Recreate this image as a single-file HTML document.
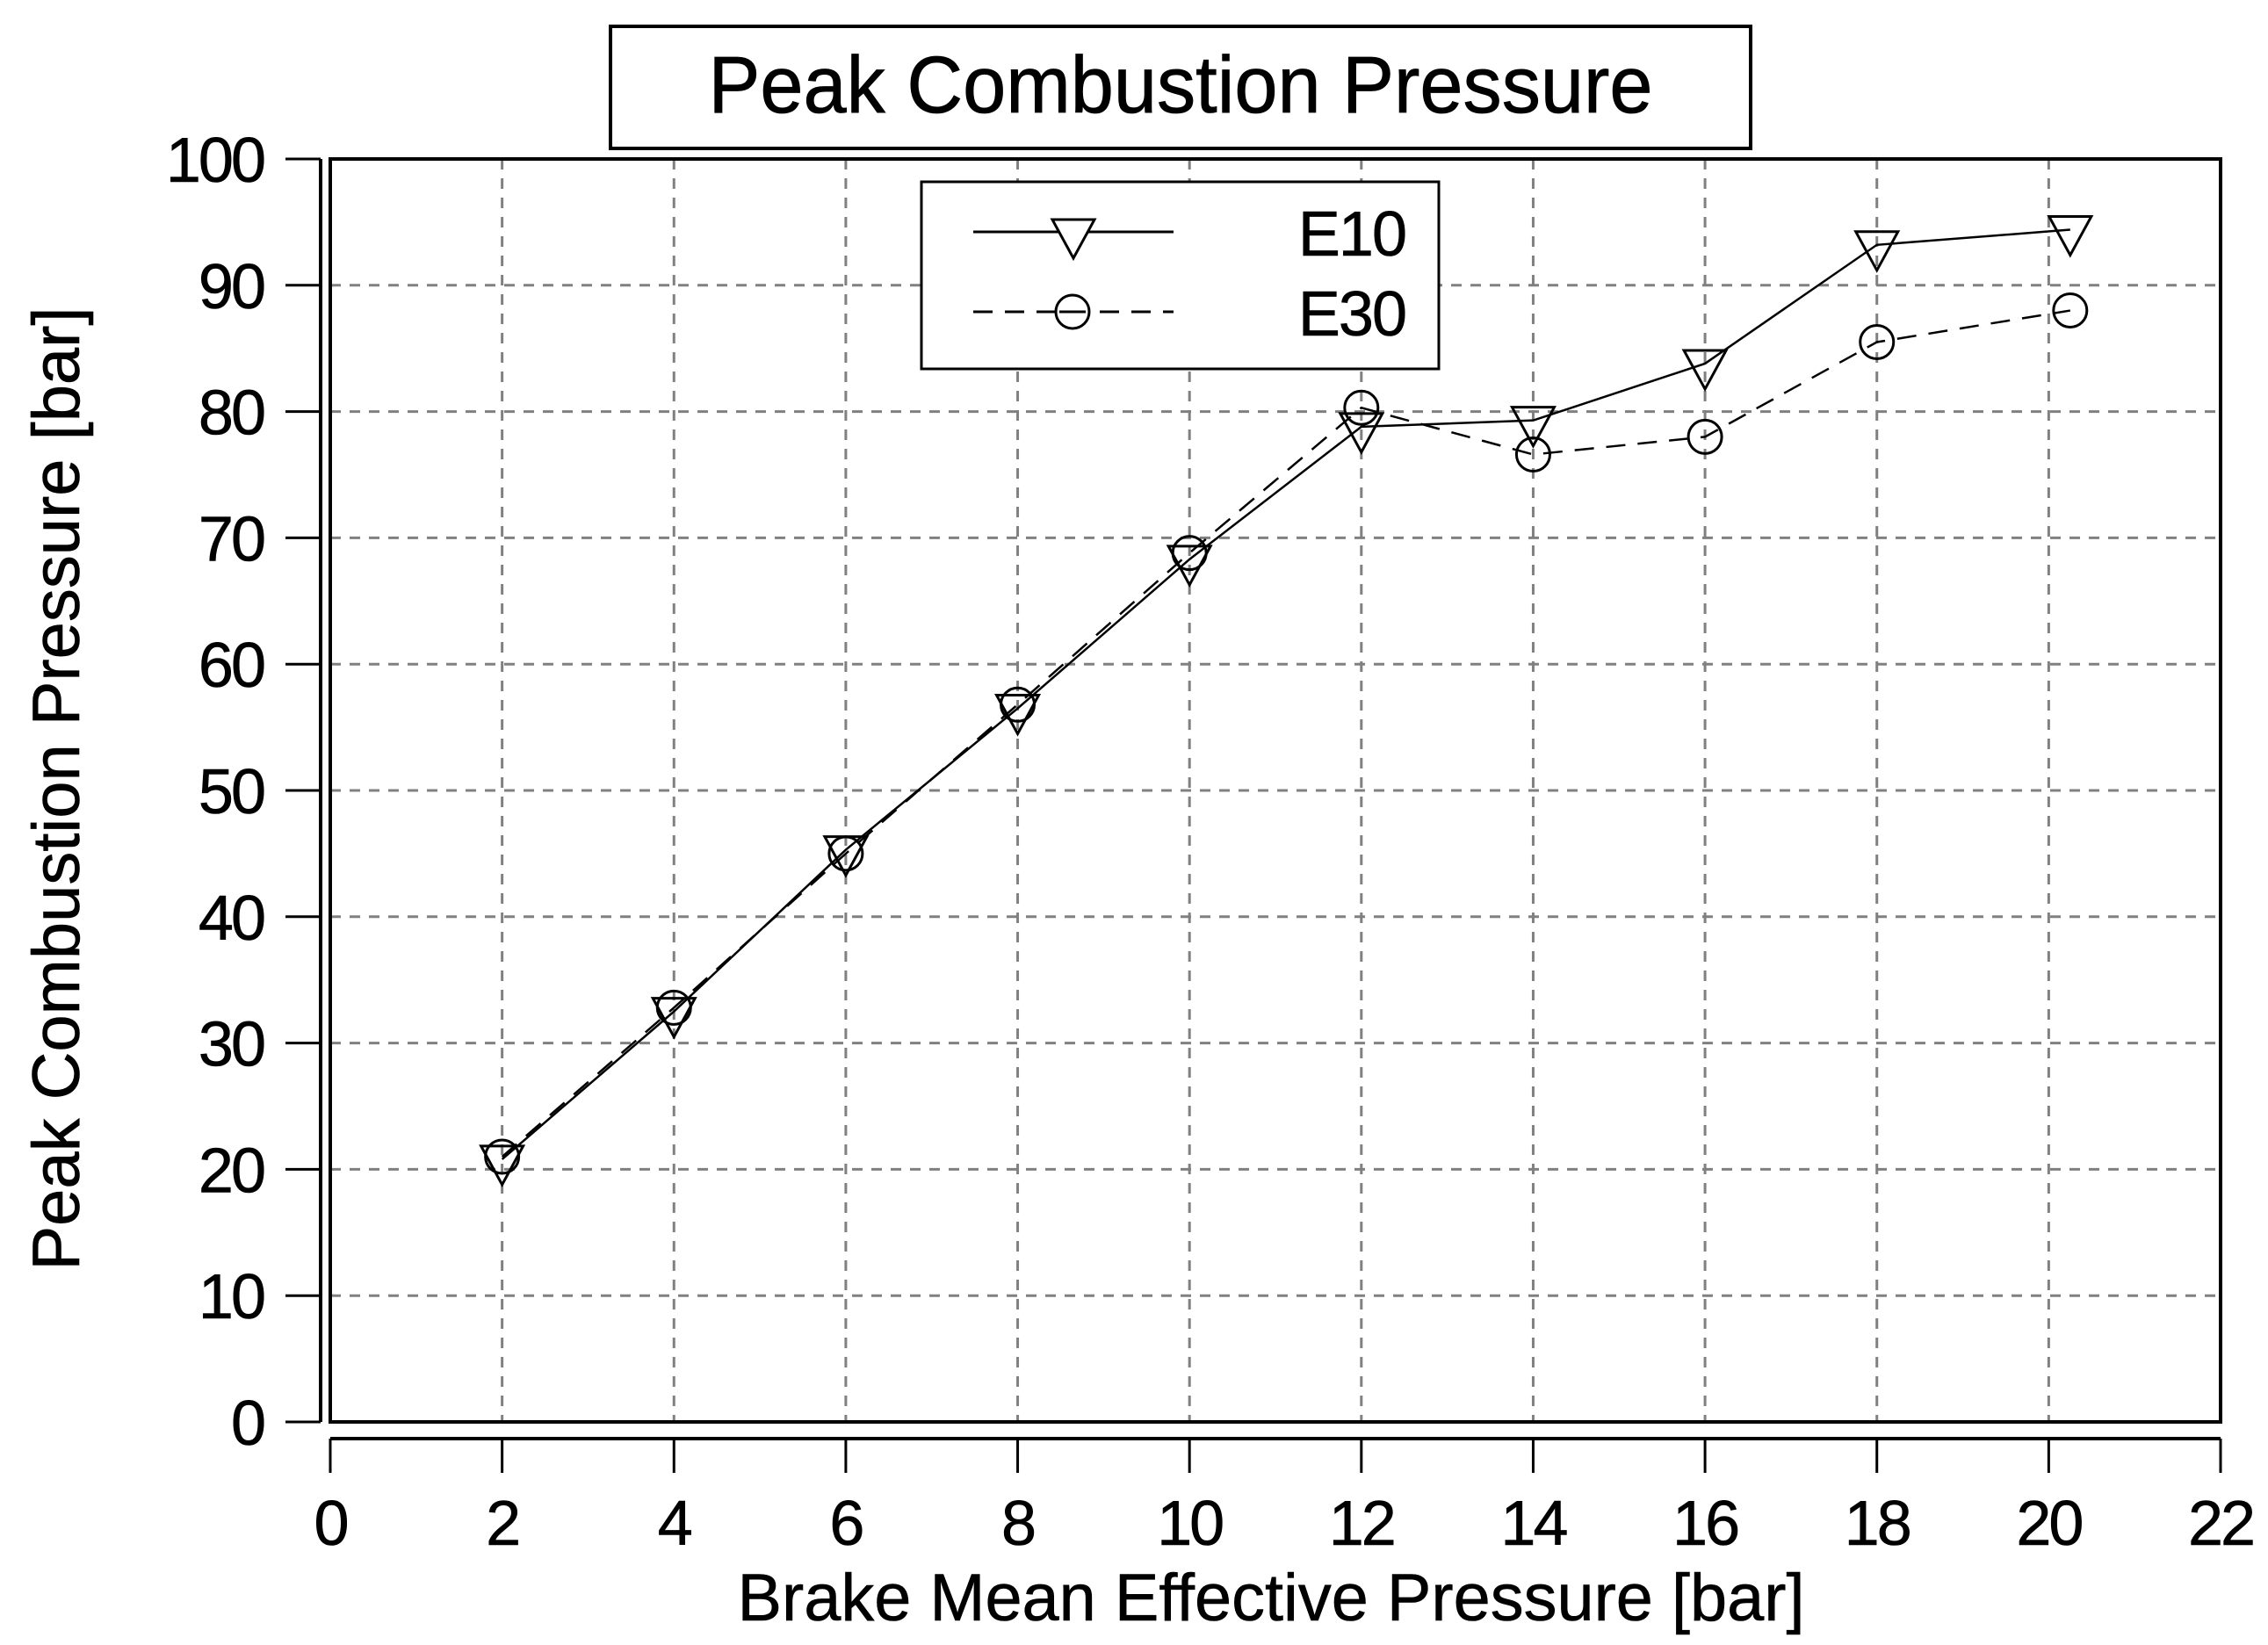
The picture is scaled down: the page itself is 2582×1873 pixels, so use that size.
<!DOCTYPE html>
<html><head><meta charset="utf-8"><style>
html,body{margin:0;padding:0;background:#fff;}
svg{display:block;font-family:"Liberation Sans",Arial,sans-serif;}
</style></head><body>
<svg id="chart" width="2582" height="1873" viewBox="0 0 2582 1873" xmlns="http://www.w3.org/2000/svg">
<rect x="695" y="30" width="1298" height="139" fill="#fff" stroke="#000" stroke-width="4"/>
<text x="1344" y="128" text-anchor="middle" font-size="92" stroke="#000" stroke-width="0.8" textLength="1075" lengthAdjust="spacingAndGlyphs">Peak Combustion Pressure</text>
<g id="grid"></g>
<rect x="376" y="181" width="2152" height="1438" fill="none" stroke="#000" stroke-width="4"/>
<g id="axes"></g>
<g id="series"></g>
<g>
<rect x="1049" y="207" width="589" height="213" fill="#fff" stroke="#000" stroke-width="3"/>
<line x1="1108" y1="264" x2="1336" y2="264" stroke="#000" stroke-width="3"/>
<polygon points="1198,250 1246,250 1222,294" fill="#fff" stroke="#000" stroke-width="3"/>
<text x="1600" y="291" text-anchor="end" font-size="72" letter-spacing="-2" stroke="#000" stroke-width="0.6">E10</text>
<line x1="1108" y1="355" x2="1336" y2="355" stroke="#000" stroke-width="3" stroke-dasharray="22,14"/>
<circle cx="1221" cy="355" r="19" fill="#fff" stroke="#000" stroke-width="3"/>
<line x1="1206" y1="355" x2="1236" y2="355" stroke="#000" stroke-width="3"/>
<text x="1600" y="382" text-anchor="end" font-size="72" letter-spacing="-2" stroke="#000" stroke-width="0.6">E30</text>
</g>
<text x="1447" y="1845" text-anchor="middle" font-size="76" stroke="#000" stroke-width="0.6" textLength="1215" lengthAdjust="spacingAndGlyphs">Brake Mean Effective Pressure [bar]</text>
<text transform="translate(90,898) rotate(-90)" text-anchor="middle" font-size="76" stroke="#000" stroke-width="0.6" textLength="1097" lengthAdjust="spacingAndGlyphs">Peak Combustion Pressure [bar]</text>
</svg>
<script>
const xTicks = [0,2,4,6,8,10,12,14,16,18,20,22];
const yTicks = [0,10,20,30,40,50,60,70,80,90,100];
const bmep = [2,4,6,8,10,12,14,16,18,20.25];
const e10 = [20.8,32.5,45.3,56.5,68.3,78.8,79.3,83.8,93.2,94.4];
const e30 = [21.0,32.8,45.0,56.8,68.8,80.3,76.6,78.0,85.5,88.0];

const NS="http://www.w3.org/2000/svg";
const X0=376,X1=2528,Y0=1619,Y1=181;
function xs(v){return X0+(v-0)/(22-0)*(X1-X0);}
function ys(v){return Y0-(v-0)/(100-0)*(Y0-Y1);}
function mk(tag,attrs,parent){const e=document.createElementNS(NS,tag);for(const k in attrs)e.setAttribute(k,attrs[k]);parent.appendChild(e);return e;}
const grid=document.getElementById('grid'),axes=document.getElementById('axes'),ser=document.getElementById('series');

xTicks.forEach(t=>{
  const x=xs(t);
  if(t>0&&t<22){const g=mk('line',{x1:x,y1:Y1,x2:x,y2:Y0,stroke:'#808080','stroke-width':3,'stroke-dasharray':'12,10'},grid);
  
  }
  const tk=mk('line',{x1:x,y1:1638,x2:x,y2:1677,stroke:'#000','stroke-width':3},axes);
  
  
  const lb=mk('text',{x:x,y:1759,'text-anchor':'middle','font-size':72,'letter-spacing':-3,stroke:'#000','stroke-width':0.6},axes);
  lb.textContent=t;
  
  
});
const xa=mk('line',{x1:X0,y1:1638,x2:X1,y2:1638,stroke:'#000','stroke-width':4},axes);



yTicks.forEach(t=>{
  const y=ys(t);
  if(t>0&&t<100){const g=mk('line',{x1:X0,y1:y,x2:X1,y2:y,stroke:'#808080','stroke-width':3,'stroke-dasharray':'12,10'},grid);
  
  }
  const tk=mk('line',{x1:325,y1:y,x2:365,y2:y,stroke:'#000','stroke-width':3},axes);
  
  
  const lb=mk('text',{x:300,y:y+26,'text-anchor':'end','font-size':72,'letter-spacing':-3,stroke:'#000','stroke-width':0.6},axes);
  lb.textContent=t;
  
  
});
const ya=mk('line',{x1:365,y1:Y1,x2:365,y2:Y0,stroke:'#000','stroke-width':4},axes);



function pts(arr){return arr.map((v,i)=>xs(bmep[i])+','+ys(v)).join(' ');}
const l30=mk('polyline',{points:pts(e30),fill:'none',stroke:'#000','stroke-width':2.5,'stroke-dasharray':'22,14'},ser);


const l10=mk('polyline',{points:pts(e10),fill:'none',stroke:'#000','stroke-width':2.5},ser);


e30.forEach((v,i)=>{
  const c=mk('circle',{cx:xs(bmep[i]),cy:ys(v),r:19,fill:'none',stroke:'#000','stroke-width':3},ser);
  
  
});
e10.forEach((v,i)=>{
  const x=xs(bmep[i]),y=ys(v);
  const p=mk('polygon',{points:(x-24)+','+(y-15)+' '+(x+24)+','+(y-15)+' '+x+','+(y+29),fill:'none',stroke:'#000','stroke-width':3},ser);
  
  
});
</script>
</body></html>
